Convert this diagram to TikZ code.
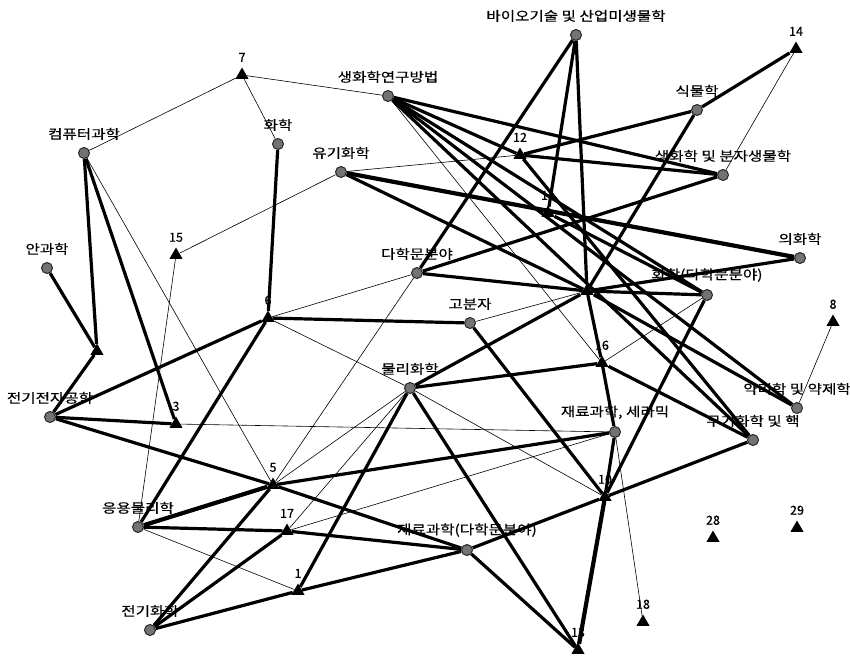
\documentclass[tikz,border=0pt]{standalone}
\usepackage{fontspec}
\newfontfamily\kr[FakeStretch=1.2,FakeBold=0.4]{Noto Sans CJK KR}
\newfontfamily\krnum[FakeBold=0.4]{Noto Sans CJK KR}
\usetikzlibrary{shapes.geometric,positioning}
\pgfdeclarelayer{bg}
\pgfdeclarelayer{labels}
\pgfdeclarelayer{edges}
\pgfsetlayers{bg,labels,edges,main}

\tikzset{
  fld/.style={circle, minimum size=11pt, inner sep=0pt, fill=black!55, draw=black!85, line width=1pt},
  num/.style={regular polygon, regular polygon sides=3, minimum size=15pt, inner sep=0pt, fill=black},
  lbl/.style={inner sep=0pt, font=\kr\fontsize{13}{14}\selectfont},
  numlbl/.style={inner sep=0pt, font=\krnum\fontsize{12.5}{13}\selectfont},
  thinedge/.style={line width=0.6pt},
  thickedge/.style={line width=3.2pt},
  heavyedge/.style={line width=4.2pt}
}

\begin{document}
\begin{tikzpicture}[x=1pt,y=-1pt]
\begin{pgfonlayer}{bg}
\fill[white] (0,0) rectangle (850,656);
\end{pgfonlayer}
\useasboundingbox (0,0) rectangle (850,656);

% fields
\node[fld] (biotech) at (576,35) {};
\node[fld] (biomethod) at (388,96) {};
\node[fld] (plant) at (697,110) {};
\node[fld] (biomol) at (723,175) {};
\node[fld] (orgchem) at (341,172) {};
\node[fld] (compsci) at (84,153) {};
\node[fld] (chem) at (278,144) {};
\node[fld] (ophth) at (47,268) {};
\node[fld] (medchem) at (800,258) {};
\node[fld] (multi) at (417,273) {};
\node[fld] (chemmulti) at (707,295) {};
\node[fld] (polymer) at (470,323) {};
\node[fld] (physchem) at (410,388) {};
\node[fld] (eee) at (50,417) {};
\node[fld] (applphys) at (138,527) {};
\node[fld] (electrochem) at (150,630) {};
\node[fld] (matmulti) at (467,550) {};
\node[fld] (matceram) at (615,432) {};
\node[fld] (pharm) at (797,408) {};
\node[fld] (inorg) at (753,440) {};

% numbered points
\node[num] (t7) at (242,75) {};
\node[num] (t14) at (796,49) {};
\node[num] (t12) at (520,155) {};
\node[num] (t11) at (548,213) {};
\node[num] (hub) at (587,291) {};
\node[num] (t15) at (176,255) {};
\node[num] (t6) at (268,318) {};
\node[num] (tx) at (97,351) {};
\node[num] (t3) at (176,424) {};
\node[num] (t8) at (833,322) {};
\node[num] (t16) at (602,363) {};
\node[num] (t5) at (273,485) {};
\node[num] (t17) at (287,531) {};
\node[num] (t1) at (298,591) {};
\node[num] (t10) at (605,497) {};
\node[num] (t13) at (578,650) {};
\node[num] (t18) at (643,622) {};
\node[num] (t28) at (713,538) {};
\node[num] (t29) at (797,528) {};

% labels
\begin{pgfonlayer}{labels}
\foreach \n/\t in {biotech/바이오기술 및 산업미생물학, biomethod/생화학연구방법,
  plant/식물학, biomol/생화학 및 분자생물학, orgchem/유기화학, compsci/컴퓨터과학,
  chem/화학, ophth/안과학, medchem/의화학, multi/다학문분야,
  chemmulti/화학(다학문분야), polymer/고분자, physchem/물리화학, eee/전기전자공학,
  applphys/응용물리학, electrochem/전기화학, matmulti/재료과학(다학문분야),
  matceram/{재료과학, 세라믹}, pharm/약리학 및 약제학, inorg/무기화학 및 핵}{
  \node[lbl, above=7pt of \n] {\t};
}
\foreach \n in {1,3,5,6,7,8,10,11,12,13,14,15,16,17,18,28,29}{
  \node[numlbl, above=5pt of t\n] {\n};
}
\end{pgfonlayer}

% links
\begin{pgfonlayer}{edges}
\foreach \a/\b in {t7/compsci, t7/chem, t7/biomethod, compsci/t5, orgchem/t15,
  t15/applphys, orgchem/t12, t6/multi, t6/physchem, multi/t5, hub/polymer,
  biomethod/t16, t16/chemmulti, t14/biomol, t3/matceram, physchem/t5,
  physchem/t17, physchem/t10, t17/matceram, applphys/t1, matceram/t18, t8/pharm}{
  \draw[thinedge] (\a) -- (\b);
}
\foreach \a/\b in {chem/t6, compsci/tx, compsci/t3, ophth/tx, tx/eee, eee/t6,
  eee/t3, eee/t5, t5/matmulti, t6/polymer, t6/applphys, polymer/t10,
  applphys/t17, t17/matmulti, t5/matceram, electrochem/t5, electrochem/t17,
  electrochem/t1, t1/matmulti, physchem/t1, physchem/t13, physchem/hub,
  physchem/t16, matmulti/t10, matmulti/t13, matceram/t10, t10/chemmulti,
  t16/matceram, t16/inorg, t16/hub, t10/inorg, t12/inorg, biomethod/t12,
  biomethod/biomol, biomethod/chemmulti, biomethod/pharm, biomethod/inorg,
  hub/pharm, hub/chemmulti, hub/medchem, orgchem/hub, multi/hub,
  multi/biomol, multi/biotech, biotech/t11, biotech/hub, plant/t14,
  plant/t12, plant/hub, t12/biomol, t11/chemmulti}{
  \draw[thickedge] (\a) -- (\b);
}
\foreach \a/\b in {applphys/t5, t10/t13, orgchem/medchem}{
  \draw[heavyedge] (\a) -- (\b);
}
\end{pgfonlayer}
\end{tikzpicture}
\end{document}
